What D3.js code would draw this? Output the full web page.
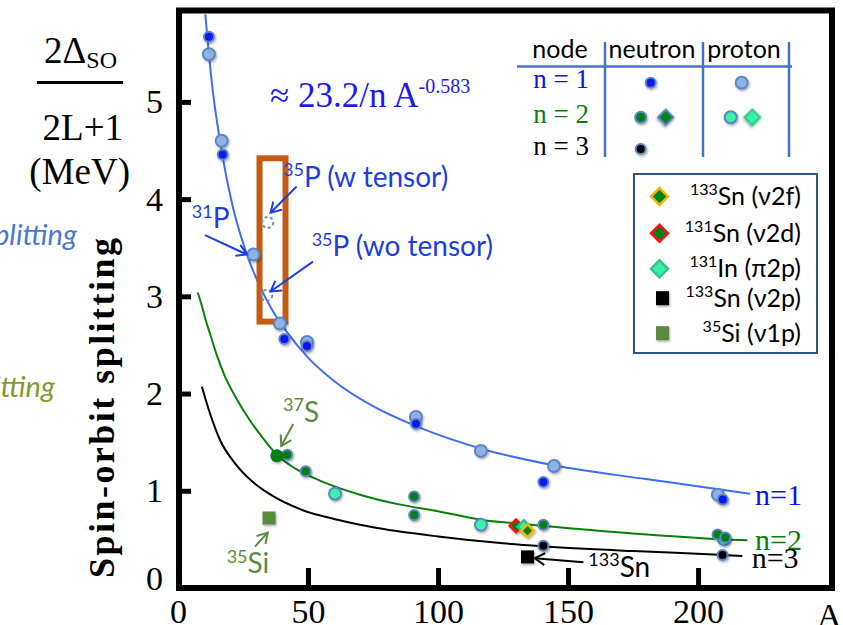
<!DOCTYPE html>
<html>
<head>
<meta charset="utf-8">
<script src="https://cdn.jsdelivr.net/npm/d3@7"></script>
<style>
  body { margin: 0; background: #fff; }
  svg { display: block; }
</style>
</head>
<body>
<div id="chart"></div>
<script>
//----------------------------------------------------------------
// data read off the figure : [A, splitting in MeV]
var xTicks = [0, 50, 100, 150, 200];
var yTicks = [0, 1, 2, 3, 4, 5];

// fit lines
var fitN1 = [[10.5,5.90],[13,5.20],[17,4.46],[21,3.93],[26,3.47],[31,3.13],[36,2.87],[42,2.63],
             [50,2.37],[60,2.13],[75,1.87],[92,1.66],[117,1.43],[145,1.26],[180,1.12],[220,0.97]];
var fitN2 = [[7.6,3.04],[9,2.92],[10.5,2.77],[12.5,2.60],[15,2.39],[18,2.18],[22,1.97],[28,1.71],
             [33,1.53],[38,1.37],[45,1.23],[55,1.10],[70,0.96],[85,0.86],[100,0.79],[117,0.70],
             [132,0.66],[140,0.64],[175,0.56],[210,0.50],[219,0.49]];
var fitN3 = [[9.2,2.07],[12,1.82],[16.2,1.52],[22,1.28],[28.8,1.09],[35,0.97],[48,0.80],[60,0.71],
             [74,0.63],[100,0.53],[125,0.46],[140,0.43],[175,0.38],[210,0.34],[217,0.33]];

// measured points
var n1Neutron = [[11.9,5.67],[17.2,4.46],[40.9,2.56],[49.6,2.49],[91.5,1.69],[140.5,1.09],[209.5,0.91]];
var n1Proton  = [[11.9,5.49],[16.8,4.60],[29,3.43],[39.2,2.72],[49.6,2.53],[91.5,1.76],[116.5,1.41],
                 [144.6,1.255],[207.6,0.96]];
var n2Neutron = [[42,1.37],[49.1,1.20],[90.8,0.94],[90.8,0.75],[140.5,0.65],[207.5,0.55],[210.5,0.52]];
var n2Proton  = [[60.4,0.97],[116.5,0.65],[210,0.50]];
var n3Neutron = [[140.5,0.435],[209.4,0.34]];
var s37       = [[38,1.36]];
var p35Tensor = [[34.5,3.76],[34.1,3.01]];

// special nuclei (legend box)
var sn133f = [[134.4,0.59]];
var sn131d = [[130,0.64]];
var in131  = [[133,0.63]];
var sn133p = [[134.4,0.32]];
var si35   = [[35,0.72]];

// highlight box round 35P : [A0, A1, v0, v1]
var boxP35 = [31.35, 41.35, 2.74, 4.42];

//----------------------------------------------------------------
// svg
var largeur = 843, hauteur = 625;
var svg = d3.select("#chart")
  .append("svg")
  .attr("width", largeur)
  .attr("height", hauteur)
  .style("font-family", "'Liberation Serif', serif");

var defs = svg.append("defs");
defs.append("filter").attr("id", "shadow")
  .attr("x", "-50%").attr("y", "-50%").attr("width", "200%").attr("height", "200%")
  .append("feDropShadow")
  .attr("dx", 1).attr("dy", 1.5).attr("stdDeviation", 1)
  .attr("flood-opacity", 0.35);

function arrowMarker(id, color) {
  defs.append("marker")
    .attr("id", id)
    .attr("viewBox", "-12 -7 14 14")
    .attr("refX", 0).attr("refY", 0)
    .attr("markerWidth", 14).attr("markerHeight", 14)
    .attr("markerUnits", "userSpaceOnUse")
    .attr("orient", "auto")
    .append("path")
    .attr("d", "M-10,-6 L0,0 L-10,6")
    .attr("fill", "none")
    .attr("stroke", color)
    .attr("stroke-width", 2);
}
arrowMarker("arBlue", "#1c3ee0");
arrowMarker("arGreen", "#5b8c3e");
arrowMarker("arBlack", "#000");

var x = d3.scaleLinear().domain([0, 251.5]).range([178, 832]);
var y = d3.scaleLinear().domain([0, 5.94]).range([588, 10.5]);

//----------------------------------------------------------------
// axes (ticks pointing inside)
var gx = svg.append("g")
  .attr("transform", "translate(0," + y(0) + ")")
  .call(d3.axisBottom(x).tickValues(xTicks).tickFormat(d3.format("d"))
    .tickSizeInner(-20).tickSizeOuter(0).tickPadding(11));
var gy = svg.append("g")
  .attr("transform", "translate(" + x(0) + ",0)")
  .call(d3.axisLeft(y).tickValues(yTicks).tickFormat(d3.format("d"))
    .tickSizeInner(-13).tickSizeOuter(0).tickPadding(15));

[gx, gy].forEach(function(g) {
  g.select(".domain").remove();
  g.selectAll(".tick line").attr("stroke", "#000").attr("stroke-width", 5);
  g.selectAll(".tick text")
    .attr("fill", "#000")
    .style("font-family", "'Liberation Serif', serif")
    .style("font-size", "34px");
});
gy.selectAll(".tick text").filter(function(d) { return d === 0; }).attr("dy", "0.05em");

svg.append("text")
  .attr("x", 817).attr("y", 627)
  .style("font-size", "34px")
  .text("A");

// frame
svg.append("rect")
  .attr("x", x(0) + 1).attr("y", y.range()[1])
  .attr("width", x.range()[1] - x(0) - 1)
  .attr("height", y(0) - y.range()[1])
  .attr("fill", "none")
  .attr("stroke", "#000")
  .attr("stroke-width", 6);

//----------------------------------------------------------------
// y axis title + unit fraction + stray clipped labels
svg.append("text")
  .attr("transform", "translate(114,408) rotate(-90)")
  .attr("text-anchor", "middle")
  .attr("textLength", 340)
  .attr("lengthAdjust", "spacing")
  .style("font-size", "36px")
  .style("font-weight", "bold")
  .text("Spin-orbit splitting");

var frac = svg.append("g").style("font-size", "37px");
var t1 = frac.append("text").attr("x", 44).attr("y", 63);
t1.append("tspan").text("2Δ");
t1.append("tspan").attr("dy", 5).style("font-size", "24px").text("SO");
frac.append("line").attr("x1", 37).attr("x2", 123).attr("y1", 82.5).attr("y2", 82.5)
  .attr("stroke", "#000").attr("stroke-width", 3);
frac.append("text").attr("x", 123).attr("y", 140).attr("text-anchor", "end").text("2L+1");
frac.append("text").attr("x", 130).attr("y", 184).attr("text-anchor", "end").text("(MeV)");

svg.append("text")
  .attr("x", 77).attr("y", 245).attr("text-anchor", "end")
  .style("font-family", "Lato, sans-serif").style("font-style", "italic").style("font-size", "29px")
  .attr("fill", "#4a78d0")
  .text("Spin-orbit splitting");
svg.append("text")
  .attr("x", 55).attr("y", 397).attr("text-anchor", "end")
  .style("font-family", "Lato, sans-serif").style("font-style", "italic").style("font-size", "29px")
  .attr("fill", "#7f9a2a")
  .text("Spin-orbit splitting");

//----------------------------------------------------------------
// fit curves
var line = d3.line()
  .x(function(d) { return x(d[0]); })
  .y(function(d) { return y(d[1]); })
  .curve(d3.curveMonotoneX);

svg.append("path").datum(fitN3).attr("d", line)
  .attr("fill", "none").attr("stroke", "#000").attr("stroke-width", 2);
svg.append("path").datum(fitN2).attr("d", line)
  .attr("fill", "none").attr("stroke", "#0a7f0a").attr("stroke-width", 2);
svg.append("path").datum(fitN1).attr("d", line)
  .attr("fill", "none").attr("stroke", "#3b6ff2").attr("stroke-width", 2);

// orange box round 35P
svg.append("rect")
  .attr("x", x(boxP35[0])).attr("y", y(boxP35[3]))
  .attr("width", x(boxP35[1]) - x(boxP35[0]))
  .attr("height", y(boxP35[2]) - y(boxP35[3]))
  .attr("fill", "none").attr("stroke", "#c55a11").attr("stroke-width", 6);

//----------------------------------------------------------------
// points
var outline = "#5a86c6";
function circles(data, fill, stroke, r, sw) {
  svg.append("g").attr("filter", "url(#shadow)")
    .selectAll("circle").data(data).enter()
    .append("circle")
    .attr("cx", function(d) { return x(d[0]); })
    .attr("cy", function(d) { return y(d[1]); })
    .attr("r", r)
    .attr("fill", fill)
    .attr("stroke", stroke)
    .attr("stroke-width", sw);
}
function diamonds(data, fill, stroke, side) {
  svg.append("g").attr("filter", "url(#shadow)")
    .selectAll("rect").data(data).enter()
    .append("rect")
    .attr("x", -side / 2).attr("y", -side / 2)
    .attr("width", side).attr("height", side)
    .attr("transform", function(d) { return "translate(" + x(d[0]) + "," + y(d[1]) + ") rotate(45)"; })
    .attr("fill", fill)
    .attr("stroke", stroke)
    .attr("stroke-width", 2.5);
}
function squares(data, fill, side) {
  svg.append("g").attr("filter", "url(#shadow)")
    .selectAll("rect").data(data).enter()
    .append("rect")
    .attr("x", function(d) { return x(d[0]) - side / 2; })
    .attr("y", function(d) { return y(d[1]) - side / 2; })
    .attr("width", side).attr("height", side)
    .attr("fill", fill);
}

circles(n1Proton, "#8eb0e2", outline, 6, 2);
circles(n1Neutron, "#0a14f0", outline, 5, 2);
circles(n2Proton, "#3af0a8", outline, 6, 2);
circles(n2Neutron, "#007f16", outline, 5, 2);
circles(s37, "#007f16", "none", 6.5, 0);
circles(n3Neutron, "#000", outline, 5, 2);

svg.selectAll(".tensor").data(p35Tensor).enter()
  .append("circle")
  .attr("cx", function(d) { return x(d[0]); })
  .attr("cy", function(d) { return y(d[1]); })
  .attr("r", 5.5)
  .attr("fill", "none")
  .attr("stroke", "#6a90d0")
  .attr("stroke-width", 2)
  .attr("stroke-dasharray", "3,2.5");

diamonds(sn131d, "#007f16", "#ff1010", 9);
diamonds(in131, "#3af0a8", "#28c888", 9);
diamonds(sn133f, "#007f16", "#f2b800", 9);
squares(sn133p, "#000", 13);
squares(si35, "#5a8a3a", 13);

//----------------------------------------------------------------
// annotations
function supText(px, py, sup, main, color, size, anchor) {
  var t = svg.append("text")
    .attr("x", px).attr("y", py)
    .attr("fill", color)
    .attr("text-anchor", anchor || "start")
    .style("font-family", "Lato, sans-serif")
    .style("font-size", size + "px");
  t.append("tspan").attr("dy", -size * 0.38).style("font-size", Math.round(size * 0.64) + "px").text(sup);
  t.append("tspan").attr("dy", size * 0.38).text(main);
  return t;
}
function arrow(a0, v0, a1, v1, color, marker) {
  svg.append("line")
    .attr("x1", x(a0)).attr("y1", y(v0))
    .attr("x2", x(a1)).attr("y2", y(v1))
    .attr("stroke", color).attr("stroke-width", 2)
    .attr("marker-end", "url(#" + marker + ")");
}

var blueTxt = "#1c3ee0", greenTxt = "#5b8c3e";
supText(x(40.4), y(4.125), "35", "P (w tensor)", blueTxt, 28);
arrow(45.6, 4.13, 35.6, 3.86, blueTxt, "arBlue");
supText(x(51.4), y(3.41), "35", "P (wo tensor)", blueTxt, 28);
arrow(51.9, 3.357, 35.6, 3.05, blueTxt, "arBlue");
supText(x(5.3), y(3.70), "31", "P", blueTxt, 28);
arrow(10.4, 3.63, 26.5, 3.43, blueTxt, "arBlue");
supText(x(40.4), y(1.71), "37", "S", greenTxt, 28);
arrow(44.3, 1.687, 39.7, 1.46, greenTxt, "arGreen");
supText(x(18.7), y(0.151), "35", "Si", greenTxt, 28);
arrow(29.6, 0.425, 34.5, 0.57, greenTxt, "arGreen");
supText(x(157.8), y(0.116), "133", "Sn", "#000", 28);
arrow(155.9, 0.264, 137.2, 0.306, "#000", "arBlack");

// formula
var ft = svg.append("text")
  .attr("x", x(35.4)).attr("y", y(4.95))
  .attr("fill", "#1a1af0")
  .style("font-size", "35px");
ft.append("tspan").text("≈ 23.2/n A");
ft.append("tspan").attr("dy", -14).style("font-size", "20px").text("-0.583");

// curve labels
svg.append("text").attr("x", x(221.9)).attr("y", y(0.854)).attr("fill", "#1010f0")
  .style("font-size", "30px").text("n=1");
svg.append("text").attr("x", x(221.9)).attr("y", y(0.39)).attr("fill", "#0a7f0a")
  .style("font-size", "30px").text("n=2");
svg.append("text").attr("x", x(220.6)).attr("y", y(0.203)).attr("fill", "#000")
  .style("font-size", "30px").text("n=3");

//----------------------------------------------------------------
// node table legend
var tbl = svg.append("g");
var tblBlue = "#4472c4";
tbl.append("line").attr("x1", 517).attr("x2", 792).attr("y1", 66.5).attr("y2", 66.5)
  .attr("stroke", tblBlue).attr("stroke-width", 2.5);
[605, 703, 789].forEach(function(vx) {
  tbl.append("line").attr("x1", vx).attr("x2", vx).attr("y1", 42).attr("y2", 157)
    .attr("stroke", tblBlue).attr("stroke-width", 2.5);
});
var heads = [["node", 560], ["neutron", 652], ["proton", 744]];
heads.forEach(function(h) {
  tbl.append("text").attr("x", h[1]).attr("y", 58).attr("text-anchor", "middle")
    .style("font-family", "Lato, sans-serif").style("font-size", "25px").text(h[0]);
});
var rows = [["n = 1", 88, "#1010f0"], ["n = 2", 123, "#0a7f0a"], ["n = 3", 155, "#000"]];
rows.forEach(function(r) {
  tbl.append("text").attr("x", 589).attr("y", r[1]).attr("text-anchor", "end")
    .attr("fill", r[2]).style("font-size", "27px").text(r[0]);
});
function legCircle(cx, cy, fill, r) {
  tbl.append("circle").attr("cx", cx).attr("cy", cy).attr("r", r)
    .attr("fill", fill).attr("stroke", outline).attr("stroke-width", 2)
    .attr("filter", "url(#shadow)");
}
function legDiamond(cx, cy, fill, stroke) {
  tbl.append("rect").attr("x", -5.5).attr("y", -5.5).attr("width", 11).attr("height", 11)
    .attr("transform", "translate(" + cx + "," + cy + ") rotate(45)")
    .attr("fill", fill).attr("stroke", stroke).attr("stroke-width", 2)
    .attr("filter", "url(#shadow)");
}
legCircle(650.7, 82.7, "#0a14f0", 5);
legCircle(741.7, 82.7, "#8eb0e2", 6);
legCircle(640.7, 117.3, "#007f16", 5.5);
legDiamond(665.7, 117.3, "#007f16", outline);
legCircle(730.7, 117.3, "#3af0a8", 6);
legDiamond(752.3, 117.3, "#3af0a8", "#28c888");
legCircle(640.7, 149, "#000", 5);

//----------------------------------------------------------------
// special nuclei legend box
var box = svg.append("g");
box.append("rect").attr("x", 634).attr("y", 174).attr("width", 183).attr("height", 179)
  .attr("fill", "#fff").attr("stroke", "#2f528f").attr("stroke-width", 2);
var entries = [
  ["133", "Sn (ν2f)", 205, "diamond", "#007f16", "#f2b800"],
  ["131", "Sn (ν2d)", 241.7, "diamond", "#007f16", "#ff1010"],
  ["131", "In (π2p)", 277.3, "diamond", "#3af0a8", "#28c888"],
  ["133", "Sn (ν2p)", 306.7, "square", "#000", null],
  ["35", "Si (ν1p)", 341.7, "square", "#5a8a3a", null]
];
entries.forEach(function(e) {
  var cy = e[2] - 8.5;
  if (e[3] === "diamond") {
    box.append("rect").attr("x", -6).attr("y", -6).attr("width", 12).attr("height", 12)
      .attr("transform", "translate(659.5," + cy + ") rotate(45)")
      .attr("fill", e[4]).attr("stroke", e[5]).attr("stroke-width", 2.5);
  } else {
    box.append("rect").attr("x", 656).attr("y", cy - 7).attr("width", 13).attr("height", 14)
      .attr("fill", e[4]).attr("filter", "url(#shadow)");
  }
  var t = box.append("text").attr("x", 801).attr("y", e[2]).attr("text-anchor", "end")
    .style("font-family", "Lato, sans-serif").style("font-size", "25px");
  t.append("tspan").attr("dy", -10).style("font-size", "16px").text(e[0]);
  t.append("tspan").attr("dy", 10).text(e[1]);
});
</script>
</body>
</html>
